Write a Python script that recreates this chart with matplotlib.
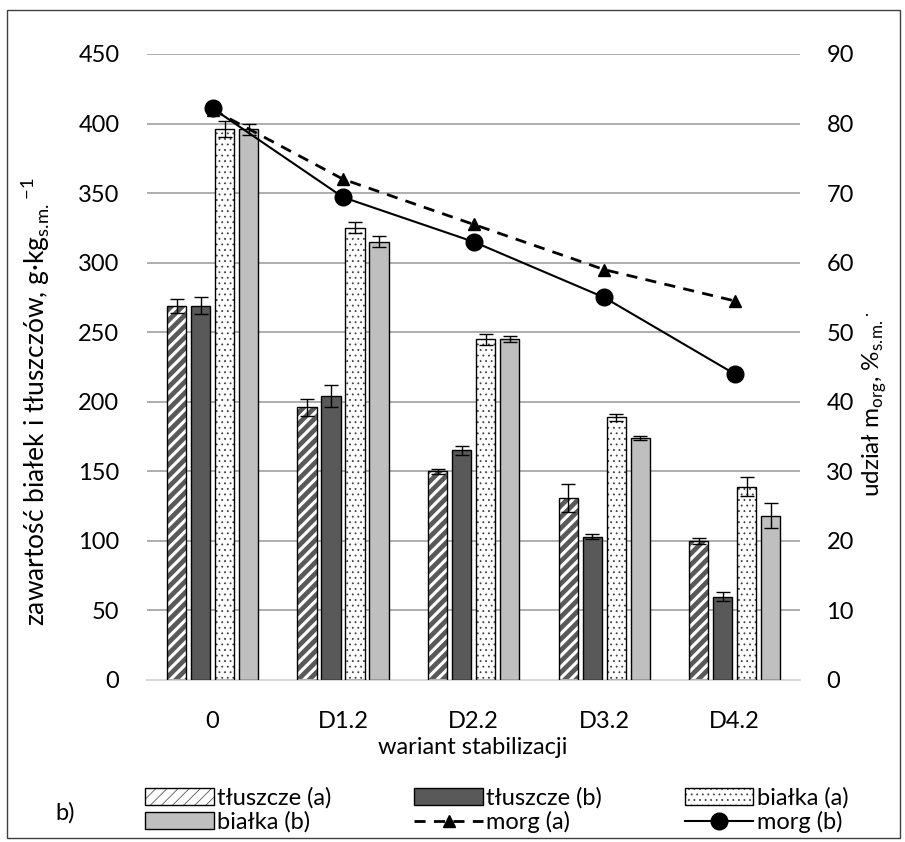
import matplotlib
matplotlib.use("Agg")
import matplotlib.pyplot as plt
import numpy as np
from matplotlib.patches import Rectangle

plt.rcParams['font.family'] = ['Lato', 'DejaVu Sans']
plt.rcParams['font.size'] = 17

categories = ["0", "D1.2", "D2.2", "D3.2", "D4.2"]
tluszcze_a = [269, 196, 150, 131, 100]
tluszcze_a_err = [5, 6, 2, 10, 2]
tluszcze_b = [269, 204, 165, 103, 60]
tluszcze_b_err = [6, 8, 3, 2, 3]
bialka_a = [396, 325, 245, 189, 139]
bialka_a_err = [6, 4, 4, 2.5, 7]
bialka_b = [396, 315, 245, 174, 118]
bialka_b_err = [4, 4, 2, 1.5, 9]
morg_a = [82.0, 72.0, 65.5, 59.0, 54.5]
morg_b = [82.2, 69.4, 63.0, 55.0, 44.0]

W, H = 905, 842
fig = plt.figure(figsize=(W / 100, H / 100), dpi=100)
ax = fig.add_axes([147.25 / W, 1 - 680 / H, 652.75 / W, 626 / H])

x = np.arange(len(categories))
step = 24 / 130.5
bw = 19.3 / 130.5
offs = np.array([-1.5, -0.5, 0.5, 1.5]) * step

# tłuszcze (a): white with dark diagonal stripes
plt.rcParams['hatch.linewidth'] = 3.4
h1 = ax.bar(x + offs[0], tluszcze_a, bw, color='white', edgecolor='#595959', hatch='///', linewidth=0, zorder=2)
o1 = ax.bar(x + offs[0], tluszcze_a, bw, fill=False, edgecolor='black', linewidth=1, zorder=3)
# tłuszcze (b)
b2 = ax.bar(x + offs[1], tluszcze_b, bw, color='#595959', edgecolor='black', linewidth=1, zorder=3)
# białka (a): white with dots
plt.rcParams['hatch.linewidth'] = 0.6
h3 = ax.bar(x + offs[2], bialka_a, bw, color='white', edgecolor='#404040', hatch='...', linewidth=0, zorder=2)
o3 = ax.bar(x + offs[2], bialka_a, bw, fill=False, edgecolor='black', linewidth=1, zorder=3)
# białka (b)
b4 = ax.bar(x + offs[3], bialka_b, bw, color='#bfbfbf', edgecolor='black', linewidth=1, zorder=3)

for off, vals, errs in [(offs[0], tluszcze_a, tluszcze_a_err), (offs[1], tluszcze_b, tluszcze_b_err),
                        (offs[2], bialka_a, bialka_a_err), (offs[3], bialka_b, bialka_b_err)]:
    ax.errorbar(x + off, vals, yerr=errs, fmt='none', ecolor='black', elinewidth=1,
                capsize=5, capthick=1, zorder=4)

ax.set_xlim(-0.5, len(categories) - 0.5)
ax.set_ylim(0, 450)
ax.set_yticks(np.arange(0, 451, 50))
ax.set_xticks(x)
ax.set_xticklabels(categories)
ax.tick_params(axis='both', length=0, labelsize=17)
ax.tick_params(axis='y', pad=20)
ax.tick_params(axis='x', pad=22)
ax.yaxis.grid(True, color='#a0a0a0', linewidth=1.2)
ax.set_axisbelow(True)
for s in ['top', 'left', 'right']:
    ax.spines[s].set_visible(False)
ax.spines['bottom'].set_color('#d9d9d9')
ax.spines['bottom'].set_linewidth(1.5)

ax2 = ax.twinx()
ax2.set_ylim(0, 90)
ax2.set_yticks(np.arange(0, 91, 10))
ax2.tick_params(axis='y', length=0, labelsize=17, pad=19)
for s in ax2.spines.values():
    s.set_visible(False)
la, = ax2.plot(x, morg_a, color='black', linestyle=(0, (4, 3)), linewidth=2,
               marker='^', markersize=9, zorder=5)
lb, = ax2.plot(x, morg_b, color='black', linestyle='-', linewidth=1.5,
               marker='o', markersize=12, zorder=6)

fig.text(35 / W, 1 - 402 / H,
         'zawartość białek i tłuszczów, g·kg$_{\\mathregular{s.\\!m.}}$$^{\\mathregular{-1}}$',
         rotation=90, ha='center', va='center', fontsize=19)
fig.text(875 / W, 1 - 404 / H,
         'udział m$_{\\mathregular{org}}$, %$_{\\mathregular{s.\\!m.}}$$^{\\mathregular{.}}$',
         rotation=90, ha='center', va='center', fontsize=17.5)
fig.text(473 / W, 1 - 747 / H, 'wariant stabilizacji', ha='center', va='center', fontsize=17)
fig.text(65 / W, 1 - 813 / H, 'b)', ha='center', va='center', fontsize=17)

# legend is filled column-wise; order so that it reads row-wise as in the reference
handles = [(h1[0], o1[0]), b4[0], b2[0], la, (h3[0], o3[0]), lb]
labels = ['tłuszcze (a)', 'białka (b)', 'tłuszcze (b)', 'morg (a)', 'białka (a)', 'morg (b)']
fig.legend(handles, labels, ncol=3, loc='center', bbox_to_anchor=(497 / W, 1 - 810 / H),
           frameon=False, fontsize=17, handlelength=2.9, handleheight=0.72,
           handletextpad=0.15, columnspacing=3.5, labelspacing=0.1, borderpad=0)

fig.patches.append(Rectangle((7 / W, 1 - 838 / H), (900 - 7) / W, (838 - 10) / H,
                             transform=fig.transFigure, fill=False, edgecolor='#404040',
                             linewidth=1, figure=fig))

fig.savefig('out.png', dpi=100)
